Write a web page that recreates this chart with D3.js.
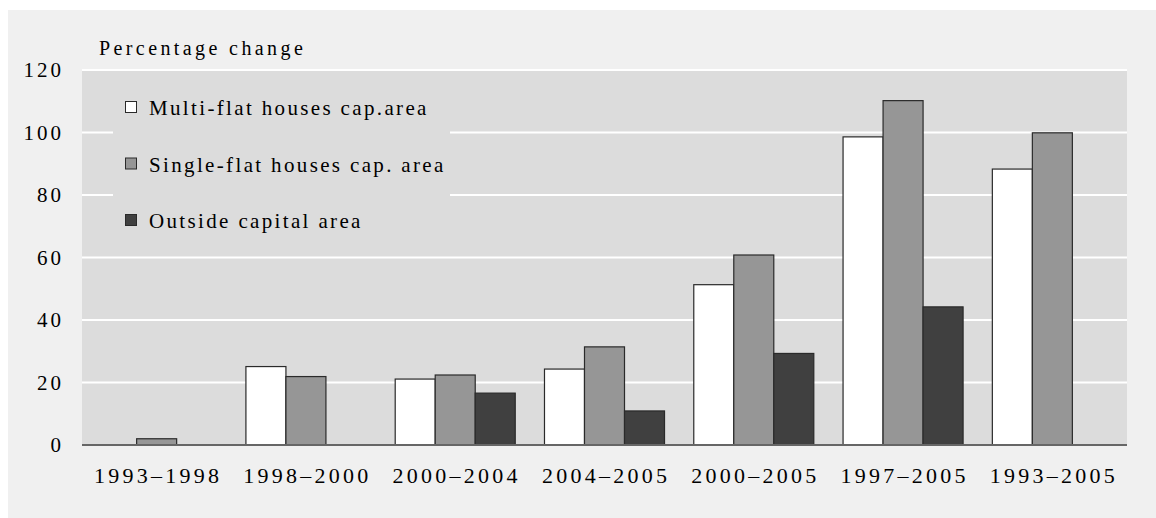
<!DOCTYPE html>
<html>
<head>
<meta charset="utf-8">
<script src="https://cdn.jsdelivr.net/npm/d3@7"></script>
<style>
    body { margin: 0; background: #ffffff; }
    svg text { font-family: "Times New Roman", "Liberation Serif", Times, serif; fill: #000; }
</style>
</head>
<body>
<div id="chart"></div>
<script>
(function (d3) {
    "use strict";

    /***** Données *****/
    const periods = ["1993\u20131998", "1998\u20132000", "2000\u20132004", "2004\u20132005",
                     "2000\u20132005", "1997\u20132005", "1993\u20132005"];
    const seriesNames = ["Multi-flat houses cap.area", "Single-flat houses cap. area", "Outside capital area"];
    const multiFlat  = [null, 25.1, 21.1, 24.3, 51.3, 98.6, 88.3];
    const singleFlat = [2.0, 21.9, 22.4, 31.4, 60.8, 110.2, 99.9];
    const outside    = [null, null, 16.6, 10.9, 29.3, 44.2, null];
    const yTicks = [0, 20, 40, 60, 80, 100, 120];

    /***** Configuration *****/
    const width = 1156, height = 518;
    const plot = { left: 82, right: 1127, top: 70, bottom: 445 };
    const colors = ["#ffffff", "#969696", "#404040"];
    const serif = "'Times New Roman', 'Liberation Serif', Times, serif";

    const svg = d3.select("#chart").append("svg")
        .attr("width", width)
        .attr("height", height);

    // fond du panneau
    svg.append("rect")
        .attr("x", 8).attr("y", 10)
        .attr("width", width - 8).attr("height", height - 10)
        .attr("fill", "#f0f0f0");

    // fond de la zone de tracé
    svg.append("rect")
        .attr("x", plot.left).attr("y", plot.top)
        .attr("width", plot.right - plot.left).attr("height", plot.bottom - plot.top)
        .attr("fill", "#dcdcdc");

    /***** Échelles *****/
    const x0 = d3.scaleBand().domain(periods)
        .range([plot.left, plot.right])
        .paddingInner(0.196).paddingOuter(0.098);
    const x1 = d3.scaleBand().domain(d3.range(seriesNames.length))
        .range([0, x0.bandwidth()]);
    const y = d3.scaleLinear().domain([0, 120]).range([plot.bottom, plot.top]);

    // lignes de grille
    svg.append("g").selectAll("line")
        .data(yTicks.filter(t => t > 0))
        .join("line")
        .attr("x1", plot.left).attr("x2", plot.right)
        .attr("y1", d => y(d)).attr("y2", d => y(d))
        .attr("stroke", "#ffffff")
        .attr("stroke-width", 2);

    // boîte de légende (cache la grille)
    svg.append("rect")
        .attr("x", 113).attr("y", 76)
        .attr("width", 337).attr("height", 170)
        .attr("fill", "#dcdcdc");

    // axe Y
    const yAxis = d3.axisLeft(y).tickValues(yTicks).tickSize(0).tickPadding(0);
    const gy = svg.append("g")
        .attr("transform", "translate(" + 64 + ",0)")
        .call(yAxis);
    gy.attr("font-family", serif);
    gy.select(".domain").remove();
    gy.selectAll("text")
        .attr("font-size", 21)
        .attr("letter-spacing", "3px")
        .attr("fill", "#000");

    svg.append("text")
        .attr("x", 99).attr("y", 55)
        .attr("font-size", 20)
        .attr("letter-spacing", "3.4px")
        .text("Percentage change");

    /***** Barres *****/
    const data = periods.map((p, i) => ({
        period: p,
        values: [multiFlat[i], singleFlat[i], outside[i]]
    }));

    const groups = svg.append("g").selectAll("g")
        .data(data)
        .join("g")
        .attr("transform", d => "translate(" + x0(d.period) + ",0)");

    groups.selectAll("rect")
        .data(d => d.values.map((v, s) => ({ v: v, s: s })).filter(e => e.v !== null))
        .join("rect")
        .attr("x", e => x1(e.s))
        .attr("y", e => y(e.v))
        .attr("width", x1.bandwidth())
        .attr("height", e => y(0) - y(e.v))
        .attr("fill", e => colors[e.s])
        .attr("stroke", "#2a2a2a")
        .attr("stroke-width", 1.2);

    // ligne de base
    svg.append("line")
        .attr("x1", plot.left).attr("x2", plot.right)
        .attr("y1", y(0)).attr("y2", y(0))
        .attr("stroke", "#666")
        .attr("stroke-width", 2);

    // axe X
    const xAxis = d3.axisBottom(x0).tickSize(0).tickPadding(0);
    const gx = svg.append("g")
        .attr("transform", "translate(1.5," + 483 + ")")
        .call(xAxis);
    gx.attr("font-family", serif);
    gx.select(".domain").remove();
    gx.selectAll("text")
        .attr("dy", 0)
        .attr("font-size", 22)
        .attr("letter-spacing", "3.25px")
        .attr("fill", "#000");

    /***** Légende *****/
    const legend = svg.append("g").selectAll("g")
        .data(seriesNames)
        .join("g")
        .attr("transform", (d, i) => "translate(125," + (115 + i * 56.5) + ")");

    legend.append("rect")
        .attr("x", 0.5).attr("y", -13.5)
        .attr("width", 11).attr("height", 11)
        .attr("fill", (d, i) => colors[i])
        .attr("stroke", "#2a2a2a")
        .attr("stroke-width", 1);

    legend.append("text")
        .attr("x", 24).attr("y", 0)
        .attr("font-size", 21)
        .attr("letter-spacing", "2.35px")
        .text(d => d);

})(d3);
</script>
</body>
</html>
